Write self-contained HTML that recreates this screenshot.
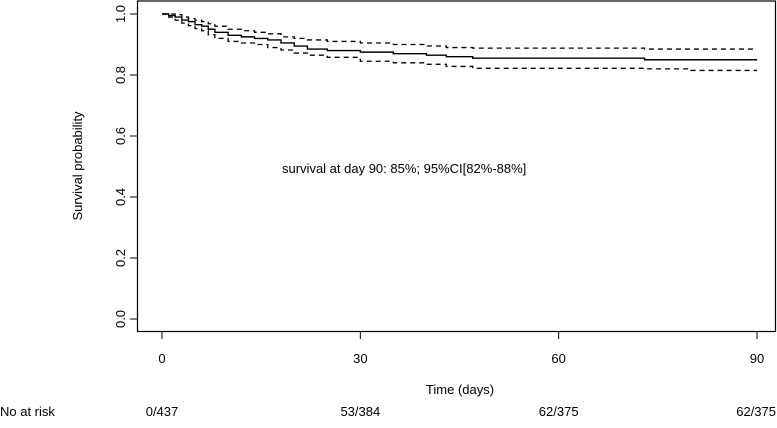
<!DOCTYPE html>
<html><head><meta charset="utf-8"><style>
body{margin:0;background:#fff;}
svg text{font-family:"Liberation Sans",Arial,sans-serif;fill:#000;}
</style></head><body>
<svg width="777" height="423" viewBox="0 0 777 423" xmlns="http://www.w3.org/2000/svg">
<rect x="137.5" y="1" width="638" height="330.5" fill="none" stroke="#000" stroke-width="1.2"/>
<g id="axes"></g>
<g id="series"></g>
<text x="282" y="173" font-size="13">survival at day 90: 85%; 95%CI[82%-88%]</text>
<text transform="translate(82,166) rotate(-90)" text-anchor="middle" font-size="13">Survival probability</text>
<text x="460" y="394" text-anchor="middle" font-size="13">Time (days)</text>
<text x="0" y="416" font-size="13">No at risk</text>
</svg>
<script>
const times=[0,1,2,3,4,5,6,7,8,10,12,14,16,18,20,22,25,30,35,40,43,47,60,73,80,90];
const surv=[1.0,0.995,0.99,0.98,0.975,0.965,0.96,0.95,0.94,0.93,0.925,0.92,0.915,0.905,0.895,0.885,0.88,0.875,0.87,0.865,0.86,0.855,0.855,0.85,0.85,0.85];
const upper=[1.0,1.0,0.998,0.99,0.985,0.98,0.975,0.968,0.96,0.95,0.945,0.94,0.935,0.925,0.92,0.915,0.91,0.905,0.9,0.895,0.89,0.888,0.888,0.885,0.885,0.885];
const lower=[1.0,0.99,0.98,0.97,0.962,0.952,0.945,0.932,0.92,0.91,0.905,0.9,0.89,0.882,0.872,0.865,0.858,0.845,0.84,0.835,0.828,0.822,0.822,0.82,0.815,0.815];
const xTicks=[0,30,60,90];
const yTicks=[0,0.2,0.4,0.6,0.8,1.0];
const atRisk=["0/437","53/384","62/375","62/375"];
const NS="http://www.w3.org/2000/svg";
const X=t=>162+t*(757-162)/90;
const Y=v=>319-v*305;
function mk(tag,attrs,parent){const e=document.createElementNS(NS,tag);for(const k in attrs)e.setAttribute(k,attrs[k]);parent.appendChild(e);return e;}
const ax=document.getElementById('axes');
xTicks.forEach((t,i)=>{
 const l=mk('line',{x1:X(t),x2:X(t),y1:332,y2:339,stroke:'#000'},ax);
 
 
 const tx=mk('text',{x:X(t),y:363,'text-anchor':'middle','font-size':13},ax);tx.textContent=t;
 
 
 const r=mk('text',{x:i==3?776:X(t),y:416,'text-anchor':i==3?'end':'middle','font-size':13},ax);r.textContent=atRisk[i];
 
 
});
yTicks.forEach(v=>{
 const l=mk('line',{x1:130,x2:137,y1:Y(v),y2:Y(v),stroke:'#000'},ax);
 
 
 const tx=mk('text',{transform:`translate(125,${Y(v)}) rotate(-90)`,'text-anchor':'middle','font-size':13},ax);tx.textContent=v.toFixed(1);
 
 
});
function stepPath(vals){let d=`M${X(times[0])},${Y(vals[0])}`;for(let i=1;i<times.length;i++){d+=`H${X(times[i])}V${Y(vals[i])}`;}return d;}
const s=document.getElementById('series');
const p=mk('path',{d:stepPath(surv),fill:'none',stroke:'#000','stroke-width':1.4},s);


const pu=mk('path',{d:stepPath(upper),fill:'none',stroke:'#000','stroke-width':1.3,'stroke-dasharray':'5,4'},s);


const pl=mk('path',{d:stepPath(lower),fill:'none',stroke:'#000','stroke-width':1.3,'stroke-dasharray':'5,4'},s);


</script>
</body></html>
